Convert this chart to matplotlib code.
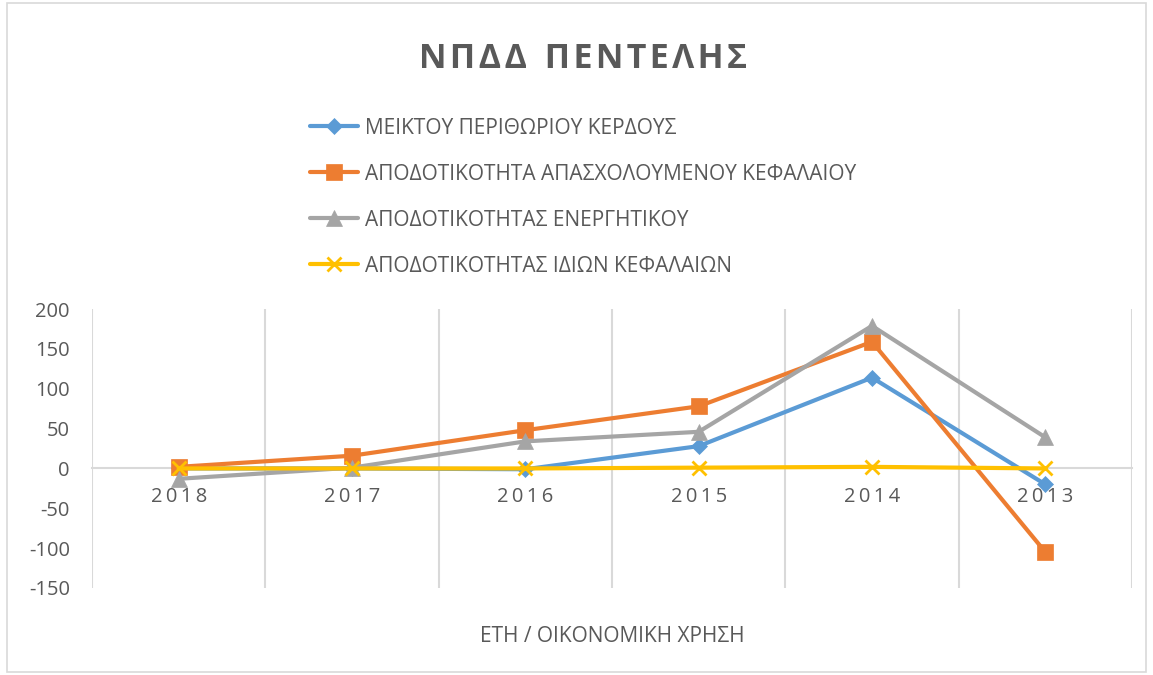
import matplotlib
matplotlib.use("Agg")
import matplotlib.pyplot as plt
from matplotlib.patches import Rectangle
import numpy as np

plt.rcParams['font.family'] = ['Open Sans', 'DejaVu Sans']
plt.rcParams['axes.unicode_minus'] = False

years = ["2018", "2017", "2016", "2015", "2014", "2013"]
gross_margin = [0, 0, -1, 28, 114, -20]
roce = [2, 16, 48, 78, 159, -105]
roa = [-13, 1, 34, 46, 179, 39]
roe = [0, 0, 0, 1, 2, 0]

labels = [
    "ΜΕΙΚΤΟΥ ΠΕΡΙΘΩΡΙΟΥ ΚΕΡΔΟΥΣ",
    "ΑΠΟΔΟΤΙΚΟΤΗΤΑ ΑΠΑΣΧΟΛΟΥΜΕΝΟΥ ΚΕΦΑΛΑΙΟΥ",
    "ΑΠΟΔΟΤΙΚΟΤΗΤΑΣ ΕΝΕΡΓΗΤΙΚΟΥ",
    "ΑΠΟΔΟΤΙΚΟΤΗΤΑΣ ΙΔΙΩΝ ΚΕΦΑΛΑΙΩΝ",
]
colors = ["#5B9BD5", "#ED7D31", "#A5A5A5", "#FFC000"]
markers = ["D", "s", "^", "x"]
msizes = [8, 11, 11, 10]
text_col = "#595959"
grid_col = "#D9D9D9"

fig = plt.figure(figsize=(11.53, 6.75), dpi=100)
ax = fig.add_axes([0.0798, 0.129, 0.902, 0.413])

x = np.arange(len(years))
handles = []
for vals, c, m, ms, lab in zip([gross_margin, roce, roa, roe], colors, markers, msizes, labels):
    h, = ax.plot(x, vals, color=c, lw=3, marker=m, markersize=ms,
                 markeredgewidth=2 if m == "x" else 0.5, markeredgecolor=c,
                 label=lab, solid_capstyle="round")
    handles.append(h)

ax.set_xlim(-0.5, len(years) - 0.5)
ax.set_ylim(-150, 200)
ax.set_yticks(np.arange(-150, 201, 50))
ax.set_xticks(x)
ax.set_xticklabels(["\u2009".join(y) for y in years])
ax.set_xticks(np.arange(-0.5, len(years), 1), minor=True)
ax.grid(True, which="minor", axis="x", color=grid_col, lw=1.5)
ax.tick_params(which="both", length=0)
ax.tick_params(axis="y", labelsize=14.5, labelcolor=text_col, pad=16)
ax.tick_params(axis="x", labelsize=14.5, labelcolor=text_col, pad=13)

for s in ["top", "right", "left"]:
    ax.spines[s].set_visible(False)
ax.spines["bottom"].set_position(("data", 0))
ax.spines["bottom"].set_color(grid_col)
ax.spines["bottom"].set_linewidth(1.5)
ax.spines["bottom"].set_zorder(0.5)

fig.text(0.506, 0.913, "\u200a".join("ΝΠΔΔ") + "  " + "\u200a".join("ΠΕΝΤΕΛΗΣ"),
         ha="center", va="center", fontsize=24.5, fontweight="bold", color=text_col)

fig.text(0.531, 0.057, "ΕΤΗ / ΟΙΚΟΝΟΜΙΚΗ ΧΡΗΣΗ", ha="center", va="center",
         fontsize=15, color=text_col)

leg = fig.legend(handles=handles, loc="upper left", bbox_to_anchor=(0.262, 0.838),
                 frameon=False, fontsize=15, labelcolor=text_col,
                 handlelength=2.3, handletextpad=0.3, labelspacing=1.2,
                 borderaxespad=0)

fig.patches.append(Rectangle((0.006, 0.005), 0.988, 0.99, transform=fig.transFigure,
                             fill=False, edgecolor=grid_col, lw=1.2))

fig.savefig("out.png", dpi=100)
